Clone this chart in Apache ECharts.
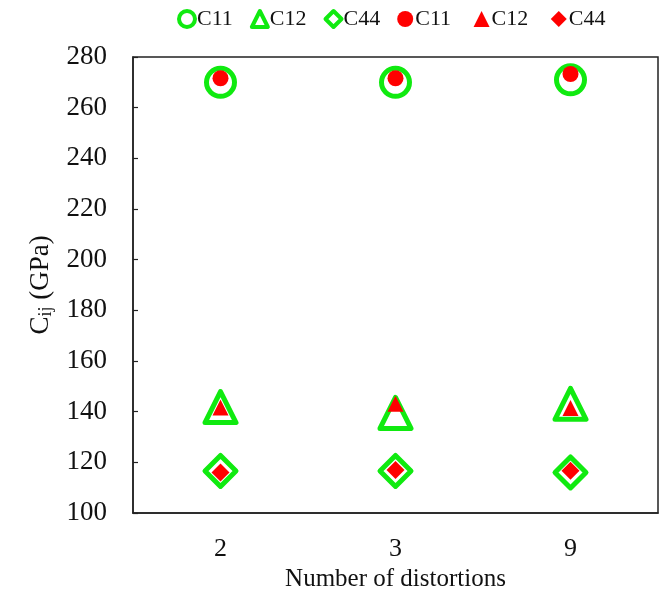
<!DOCTYPE html>
<html>
<head>
<meta charset="utf-8">
<script src="https://cdn.jsdelivr.net/npm/echarts@6/dist/echarts.min.js"></script>
<style>
  html, body { margin: 0; padding: 0; background: #fff; }
  #chart { width: 672px; height: 605px; }
</style>
</head>
<body>
<div id="chart"></div>
<script>
// Number of distortions used in the fit
const categories = ['2', '3', '9'];

// Elastic constants (GPa), first data set (open green markers)
const c11A = [270.0, 270.0, 271.0];
const c12A = [141.8, 139.5, 143.1];
const c44A = [116.6, 116.6, 116.0];

// Elastic constants (GPa), second data set (filled red markers)
const c11B = [271.6, 271.6, 273.3];
const c12B = [141.6, 143.1, 141.4];
const c44B = [116.0, 117.0, 116.7];

const yTicks = { min: 100, max: 280, step: 20 };

const GREEN = '#10ea10';
const RED = '#ff0000';
const FONT = '"Liberation Serif", "Times New Roman", serif';

function openSeries(name, data, symbol, size) {
  return {
    name: name, type: 'scatter', data: data, symbol: symbol, symbolSize: size,
    itemStyle: { color: 'rgba(255,255,255,0)', borderColor: GREEN, borderWidth: 5, borderJoin: 'round', opacity: 1 },
    emphasis: { disabled: true },
    z: 2
  };
}
function filledSeries(name, data, symbol, size) {
  return {
    name: name, type: 'scatter', data: data, symbol: symbol, symbolSize: size,
    itemStyle: { color: RED, opacity: 1 },
    emphasis: { disabled: true },
    z: 3
  };
}

const legendOpen = { color: '#fff', borderColor: GREEN, borderWidth: 4, opacity: 1 };
const legendFilled = { color: RED, borderWidth: 0, opacity: 1 };

const chart = echarts.init(document.getElementById('chart'));
chart.setOption({
  animation: false,
  textStyle: { fontFamily: FONT, color: '#111' },
  legend: {
    top: 3, left: 172,
    itemWidth: 16, itemHeight: 16, itemGap: 17,
    textStyle: { fontFamily: FONT, fontSize: 22, color: '#111', padding: [0, 0, 0, -3] },
    data: [
      { name: 'C11', icon: 'circle', itemStyle: legendOpen },
      { name: 'C12', icon: 'triangle', itemStyle: legendOpen },
      { name: 'C44', icon: 'diamond', itemStyle: legendOpen },
      { name: 'C11 ', icon: 'circle', itemStyle: legendFilled },
      { name: 'C12 ', icon: 'triangle', itemStyle: legendFilled },
      { name: 'C44 ', icon: 'diamond', itemStyle: legendFilled }
    ]
  },
  grid: {
    left: 133, right: 14, top: 57, bottom: 92,
    show: true, borderColor: '#222', borderWidth: 1.5, backgroundColor: 'transparent'
  },
  xAxis: {
    type: 'category', data: categories, boundaryGap: true,
    name: 'Number of distortions', nameLocation: 'middle', nameGap: 50,
    nameTextStyle: { fontFamily: FONT, fontSize: 25, color: '#111' },
    axisLine: { lineStyle: { color: '#222', width: 1.5 } },
    axisTick: { inside: true, length: 5, alignWithLabel: true, lineStyle: { color: '#222', width: 1.2 } },
    axisLabel: { fontFamily: FONT, fontSize: 26, color: '#111', margin: 23 },
    splitLine: { show: false }
  },
  yAxis: {
    type: 'value', min: yTicks.min, max: yTicks.max, interval: yTicks.step,
    name: 'C{sub|ij} (GPa)', nameLocation: 'middle', nameGap: 73, nameRotate: 90,
    nameTextStyle: {
      fontFamily: FONT, fontSize: 27, color: '#111',
      rich: { sub: { fontFamily: FONT, fontSize: 18, color: '#111', verticalAlign: 'bottom', padding: [11, 0, 0, 0] } }
    },
    axisLine: { show: true, lineStyle: { color: '#222', width: 1.5 } },
    axisTick: { show: true, inside: true, length: 5, lineStyle: { color: '#222', width: 1.2 } },
    axisLabel: { fontFamily: FONT, fontSize: 27, color: '#111', margin: 26 },
    splitLine: { show: false }
  },
  series: [
    openSeries('C11', c11A, 'circle', 28),
    openSeries('C12', c12A, 'triangle', 31),
    openSeries('C44', c44A, 'diamond', 31),
    filledSeries('C11 ', c11B, 'circle', 16),
    filledSeries('C12 ', c12B, 'triangle', 16),
    filledSeries('C44 ', c44B, 'diamond', 18)
  ]
});
</script>
</body>
</html>
